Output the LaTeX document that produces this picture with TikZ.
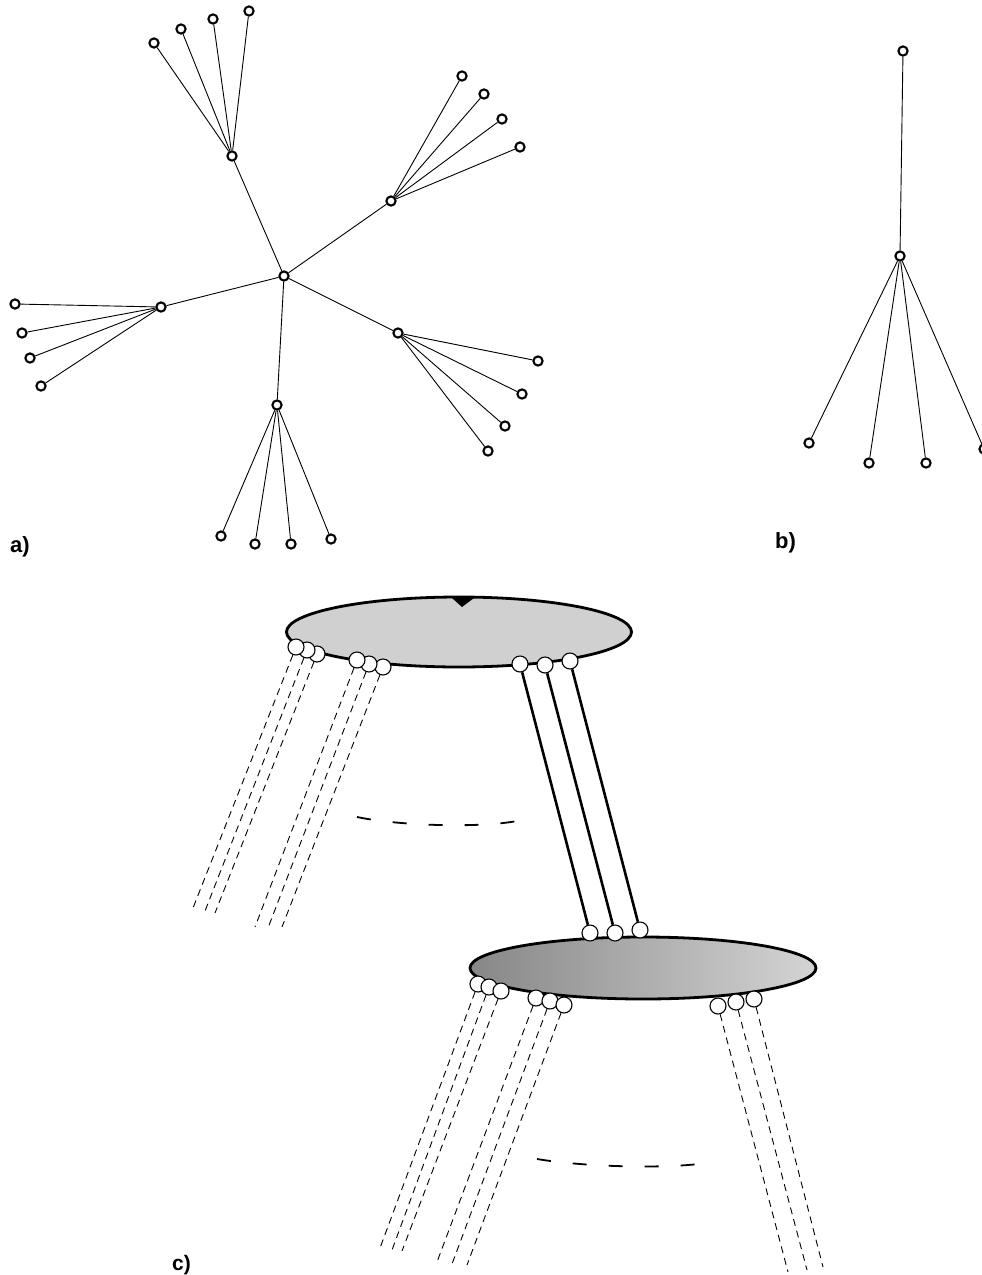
\documentclass[tikz,border=0pt]{standalone}
\usepackage{fontspec}
\setmainfont{Liberation Sans}
\usetikzlibrary{shapes.geometric}
\begin{document}
\begin{tikzpicture}[x=1pt,y=-1pt,
 dot/.style={circle,draw,line width=2.1pt,fill=white,inner sep=0pt,minimum size=9.2pt},
 edge/.style={line width=0.9pt},
 ball/.style={circle,draw,line width=1.1pt,fill=white,inner sep=0pt,minimum size=16pt},
 strut/.style={line width=2.6pt},
 ghost/.style={line width=0.9pt,dash pattern=on 7pt off 5pt},
 arcdash/.style={line width=1.8pt,dash pattern=on 14pt off 22pt},
 disc/.style={ellipse,draw,line width=2.8pt,inner sep=0pt},
 lab/.style={font=\fontsize{22}{24}\selectfont\bfseries,anchor=base west,inner sep=0pt}]
\useasboundingbox (0,0) rectangle (982,1275);

% ---------- panel a ----------
\node[dot] (c0) at (284,276) {};
\node[dot] (h1) at (232,156) {};
\node[dot] (h2) at (391,201) {};
\node[dot] (h3) at (161,307) {};
\node[dot] (h4) at (398,333) {};
\node[dot] (h5) at (277,405) {};
\foreach \n/\x/\y in {h1a/154/43,h1b/181/29,h1c/213/19,h1d/249/11,
  h2a/462/76,h2b/484/94,h2c/502/119,h2d/520/147,
  h3a/15/304,h3b/22/333,h3c/30/358,h3d/41/386,
  h4a/538/361,h4b/522/394,h4c/505/426,h4d/488/451,
  h5a/221/536,h5b/255/544,h5c/291/544,h5d/331/539}
  \node[dot] (\n) at (\x,\y) {};
\foreach \h in {h1,h2,h3,h4,h5}{
  \draw[edge] (c0) -- (\h);
  \foreach \l in {a,b,c,d} \draw[edge] (\h) -- (\h\l);
}
\node[lab] (la) at (10,552) {a)};

% ---------- panel b ----------
\node[dot] (b0) at (903,51) {};
\node[dot] (b1) at (900,256) {};
\foreach \n/\x/\y in {b1a/809/443,b1b/869/463,b1c/926/463,b1d/984/449}
  \node[dot] (\n) at (\x,\y) {};
\draw[edge] (b0) -- (b1);
\foreach \l in {a,b,c,d} \draw[edge] (b1) -- (b1\l);
\node[lab] (lb) at (775,548) {b)};

% ---------- panel c ----------
\node[disc,fill={rgb,255:red,208;green,208;blue,208},minimum width=345pt,minimum height=70pt] (top) at (459,632) {};
\fill (452,598) -- (474,598) -- (462,607) -- cycle;
\node[disc,left color={rgb,255:red,135;green,135;blue,135},right color={rgb,255:red,212;green,212;blue,212},minimum width=346pt,minimum height=62pt] (bot) at (643,968) {};

% balls on the top disc
\node[ball] (t3) at (317,654) {};
\node[ball] (t2) at (307,650) {};
\node[ball] (t1) at (296,647) {};
\node[ball] (t6) at (383,667) {};
\node[ball] (t5) at (369,664) {};
\node[ball] (t4) at (357,660) {};
\node[ball] (t7) at (520,664) {};
\node[ball] (t8) at (545,665) {};
\node[ball] (t9) at (570,661) {};

% balls on the bottom disc
\node[ball] (u1) at (590,933) {};
\node[ball] (u2) at (615,933) {};
\node[ball] (u3) at (640,930) {};
\node[ball] (v1) at (478,984) {};
\node[ball] (v2) at (489,987) {};
\node[ball] (v3) at (501,991) {};
\node[ball] (v4) at (536,998) {};
\node[ball] (v5) at (550,1001) {};
\node[ball] (v6) at (564,1005) {};
\node[ball] (v9) at (754,999) {};
\node[ball] (v8) at (736,1002) {};
\node[ball] (v7) at (718,1006) {};

% solid struts between the discs
\draw[strut] (t7) -- (u1);
\draw[strut] (t8) -- (u2);
\draw[strut] (t9) -- (u3);

% free ends of the dashed strands
\foreach \n/\x/\y in {e1/193/908,e2/205/911,e3/215/913,e4/255/927,e5/268/928,e6/282/927,
  f1/380/1248,f2/392/1250,f3/402/1251,f4/437/1262,f5/452/1264,f6/467/1265,
  f7/788/1272,f8/807/1270,f9/823/1267}
  \coordinate (\n) at (\x,\y);
\foreach \i in {1,...,6} \draw[ghost] (t\i) -- (e\i);
\foreach \i in {1,...,9} \draw[ghost] (v\i) -- (f\i);

% dashed arcs
\draw[arcdash] (357,817) .. controls (400,826) and (480,828) .. (517,821);
\draw[arcdash] (537,1159) .. controls (585,1167) and (665,1169) .. (707,1163);

\node[lab,font=\fontsize{21}{23}\selectfont\bfseries] (lc) at (172,1270) {c)};
\end{tikzpicture}
\end{document}
